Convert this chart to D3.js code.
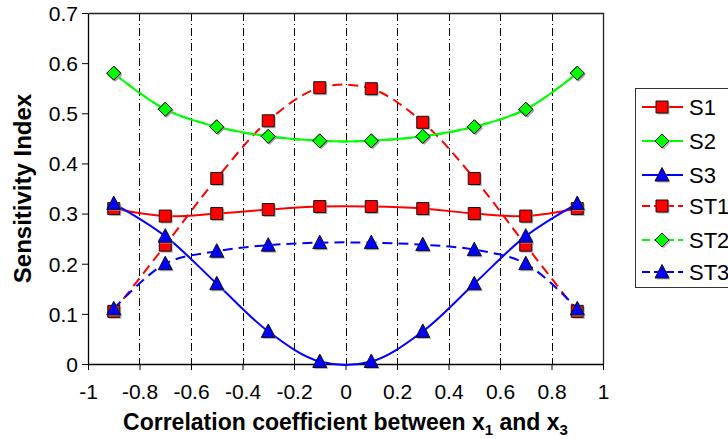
<!DOCTYPE html>
<html>
<head>
<meta charset="utf-8">
<script src="https://cdn.jsdelivr.net/npm/d3@7"></script>
<style>
  body { margin: 0; background: #fff; }
  text { font-family: "Liberation Sans", Arial, sans-serif; }
</style>
</head>
<body>
<div id="chart"></div>
<script>
var svgWidth = 728;
var svgHeight = 439;

var margin = { top: 13, right: 125, bottom: 75, left: 88 };
var width = 603 - margin.left;
var height = 364 - margin.top;

// data
var rho = [-0.9, -0.7, -0.5, -0.3, -0.1, 0.1, 0.3, 0.5, 0.7, 0.9];
var S1  = [0.310, 0.295, 0.300, 0.308, 0.314, 0.314, 0.310, 0.300, 0.295, 0.310];
var S2  = [0.580, 0.508, 0.473, 0.454, 0.445, 0.445, 0.454, 0.473, 0.508, 0.580];
var S3  = [0.320, 0.255, 0.160, 0.065, 0.005, 0.005, 0.065, 0.160, 0.255, 0.320];
var ST1 = [0.105, 0.237, 0.370, 0.485, 0.551, 0.549, 0.482, 0.370, 0.237, 0.105];
var ST2 = [0.580, 0.508, 0.473, 0.454, 0.445, 0.445, 0.454, 0.473, 0.508, 0.580];
var ST3 = [0.110, 0.200, 0.225, 0.237, 0.242, 0.242, 0.238, 0.228, 0.200, 0.110];

var xTicks = [-1, -0.8, -0.6, -0.4, -0.2, 0, 0.2, 0.4, 0.6, 0.8, 1];
var yTicks = [0, 0.1, 0.2, 0.3, 0.4, 0.5, 0.6, 0.7];
var gridX = [-0.8, -0.6, -0.4, -0.2, 0, 0.2, 0.4, 0.6, 0.8];

var series = [
  { name: "S1",  values: S1,  color: "#ff0000", marker: "square",   dash: null },
  { name: "S2",  values: S2,  color: "#00ff00", marker: "diamond",  dash: null },
  { name: "S3",  values: S3,  color: "#0000ff", marker: "triangle", dash: null },
  { name: "ST1", values: ST1, color: "#ff0000", marker: "square",   dash: "10,6" },
  { name: "ST2", values: ST2, color: "#00ff00", marker: "diamond",  dash: "10,6" },
  { name: "ST3", values: ST3, color: "#0000ff", marker: "triangle", dash: "10,6" }
];

var svg = d3.select("#chart")
  .append("svg")
  .attr("width", svgWidth)
  .attr("height", svgHeight);

var chartGroup = svg.append("g")
  .attr("transform", `translate(${margin.left}, ${margin.top})`);

var xScale = d3.scaleLinear().domain([-1, 1]).range([0, width]);
var yScale = d3.scaleLinear().domain([0, 0.7]).range([height, 0]);

// vertical dash-dot gridlines
chartGroup.selectAll(".grid")
  .data(gridX)
  .enter()
  .append("line")
  .attr("x1", d => Math.round(xScale(d)) + 0.5)
  .attr("x2", d => Math.round(xScale(d)) + 0.5)
  .attr("y1", 0)
  .attr("y2", height)
  .attr("stroke", "#000")
  .attr("stroke-width", 1)
  .attr("stroke-dasharray", "8,3,1,3");

// frame top/right
chartGroup.append("path")
  .attr("d", `M0.5,0.5H${width + 0.5}V${height}`)
  .attr("fill", "none")
  .attr("stroke", "#222")
  .attr("stroke-width", 1.3);

// axes
var bottomAxis = d3.axisBottom(xScale).tickValues(xTicks).tickSize(6).tickSizeOuter(0)
  .tickFormat(d => String(d));
var leftAxis = d3.axisLeft(yScale).tickValues(yTicks).tickSize(6).tickSizeOuter(0)
  .tickFormat(d => d === 0 ? "0" : d3.format(".1f")(d));

var xAxis = chartGroup.append("g")
  .attr("transform", `translate(0, ${height})`)
  .call(bottomAxis);
var yAxis = chartGroup.append("g").call(leftAxis);

[xAxis, yAxis].forEach(function(ax) {
  ax.attr("font-size", null).attr("font-family", null);
  ax.select(".domain").attr("stroke", "#000").attr("stroke-width", 1.3);
  ax.selectAll(".tick line").attr("stroke", "#000");
  ax.selectAll(".tick text")
    .style("font-size", "21px")
    .style("font-family", "'Liberation Sans', Arial, sans-serif")
    .attr("fill", "#000");
});
xAxis.selectAll(".tick text").attr("y", 15).attr("dy", "0.95em");
yAxis.selectAll(".tick text").attr("x", -10).attr("dy", "0.35em");

// curves
var line = d3.line()
  .x(d => xScale(d.x))
  .y(d => yScale(d.y))
  .curve(d3.curveCatmullRom.alpha(0.5));

function pts(s) {
  return rho.map((r, i) => ({ x: r, y: s.values[i] }));
}

// draw dashed totals first then solid firsts (so S2 covers ST2)
var order = [series[4], series[3], series[5], series[0], series[1], series[2]];
order.forEach(function(s) {
  chartGroup.append("path")
    .datum(pts(s))
    .attr("fill", "none")
    .attr("stroke", s.color)
    .attr("stroke-width", 2)
    .attr("stroke-dasharray", s.dash)
    .attr("d", line);
});

function markerPath(type, size) {
  var h = size / 2;
  if (type === "square") return `M${-h},${-h}H${h}V${h}H${-h}Z`;
  if (type === "diamond") return `M0,${-h - 1}L${h + 1},0L0,${h + 1}L${-h - 1},0Z`;
  return `M0,${-h - 1.5}L${h + 1},${h}L${-h - 1},${h}Z`;
}

function drawMarker(g, s, x, y) {
  g.append("path")
    .attr("d", markerPath(s.marker, 12))
    .attr("transform", `translate(${x + 1.5}, ${y + 1.5})`)
    .attr("fill", "#999")
    .attr("opacity", 0.7);
  g.append("path")
    .attr("d", markerPath(s.marker, 12))
    .attr("transform", `translate(${x}, ${y})`)
    .attr("fill", s.color)
    .attr("stroke", "#111")
    .attr("stroke-width", 1);
}

order.forEach(function(s) {
  var mg = chartGroup.append("g");
  pts(s).forEach(function(p) {
    drawMarker(mg, s, xScale(p.x), yScale(p.y));
  });
});

// axis titles
svg.append("text")
  .attr("transform", `translate(31, ${margin.top + height / 2}) rotate(-90)`)
  .attr("text-anchor", "middle")
  .style("font-size", "24px")
  .attr("font-weight", "bold")
  .text("Sensitivity Index");

var xl = svg.append("text")
  .attr("x", margin.left + width / 2)
  .attr("y", 430)
  .attr("text-anchor", "middle")
  .style("font-size", "23px")
  .attr("font-weight", "bold");
xl.append("tspan").text("Correlation coefficient between x");
xl.append("tspan").style("font-size", "15px").attr("dy", 5).text("1");
xl.append("tspan").attr("dy", -5).text(" and x");
xl.append("tspan").style("font-size", "15px").attr("dy", 5).text("3");

// legend
var legend = svg.append("g").attr("transform", "translate(635, 88)");
legend.append("rect")
  .attr("x", 0.5).attr("y", 0.5)
  .attr("width", 110).attr("height", 199)
  .attr("fill", "#fff")
  .attr("stroke", "#333")
  .attr("stroke-width", 1);

var legendY = [19, 53, 87, 118, 152, 184];
series.forEach(function(s, i) {
  var g = legend.append("g").attr("transform", `translate(0, ${legendY[i]})`);
  g.append("line")
    .attr("x1", 7).attr("x2", 48)
    .attr("y1", 0).attr("y2", 0)
    .attr("stroke", s.color)
    .attr("stroke-width", 2)
    .attr("stroke-dasharray", s.dash ? "8,4" : null);
  drawMarker(g, s, 27, 0);
  g.append("text")
    .attr("x", 54)
    .attr("y", 0)
    .attr("dy", "0.36em")
    .style("font-size", "22px")
    .text(s.name);
});
</script>
</body>
</html>
